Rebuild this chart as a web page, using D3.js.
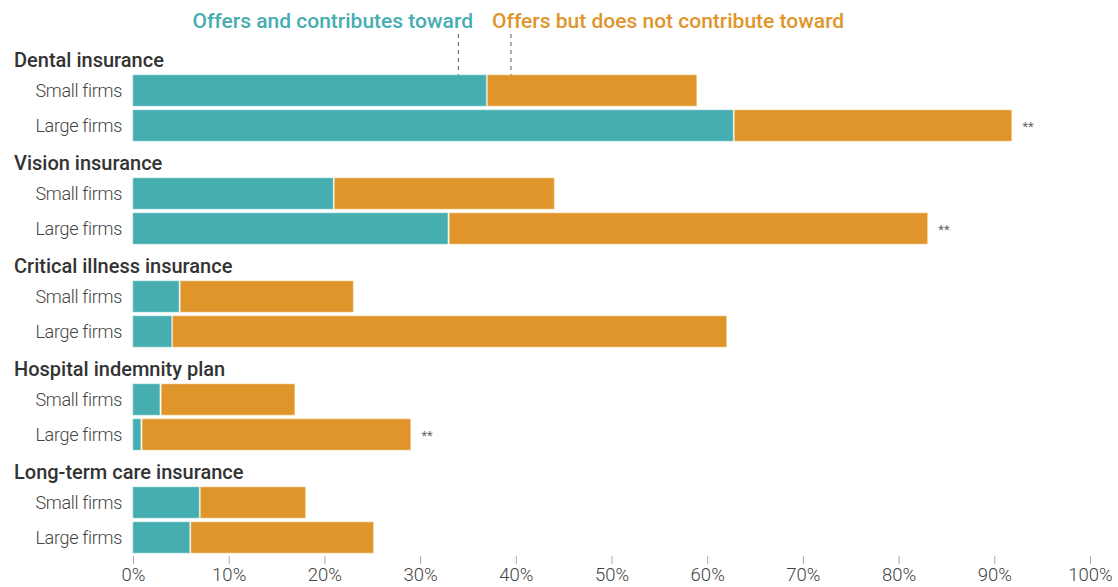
<!DOCTYPE html>
<html>
<head>
<meta charset="utf-8">
<script src="https://cdn.jsdelivr.net/npm/d3@7"></script>
<style>
  body { margin: 0; background: #fff; }
  svg { display: block; font-family: Roboto, "Open Sans", sans-serif; }
</style>
</head>
<body>
<svg id="chart" width="1118" height="587"></svg>
<script>
// benefits and firm sizes
const groups = ["Dental insurance", "Vision insurance", "Critical illness insurance", "Hospital indemnity plan", "Long-term care insurance"];
const firms = ["Small firms", "Large firms"];
// percent offering and contributing
const contributes = [
  [36.9, 62.7],
  [20.9, 32.9],
  [4.8, 4.0],
  [2.8, 0.8],
  [6.9, 5.9]
];
// percent offering but not contributing
const notContributes = [
  [22.0, 29.1],
  [23.1, 50.1],
  [18.2, 58.0],
  [14.1, 28.2],
  [11.1, 19.2]
];
// significance markers
const marks = [
  ["", "**"],
  ["", "**"],
  ["", ""],
  ["", "**"],
  ["", ""]
];
const ticks = [0, 10, 20, 30, 40, 50, 60, 70, 80, 90, 100];
const seriesNames = ["Offers and contributes toward", "Offers but does not contribute toward"];

const teal = "#46adb1";
const orange = "#e0952a";

const svg = d3.select("#chart");
const margin = {left: 133, right: 28};
const width = 1118;
const groupStep = 103;

const x = d3.scaleLinear().domain([0, 100]).range([margin.left, width - margin.right]);

const rows = [];
groups.forEach((g, gi) => {
  firms.forEach((f, fi) => {
    rows.push({group: g, gi, firm: f, fi, a: contributes[gi][fi], b: notContributes[gi][fi], mark: marks[gi][fi]});
  });
});

const yGroup = d => 35 + d * groupStep;
const y = d3.scaleBand().domain(firms).range([40, 106]).paddingInner(0.114).paddingOuter(0);

// group titles
svg.append("g").selectAll("text")
  .data(groups)
  .join("text")
  .attr("x", 14)
  .attr("y", (d, i) => yGroup(i) + 32)
  .attr("font-size", 20)
  .attr("font-weight", 500)
  .attr("fill", "#333")
  .text(d => d);

const rowG = svg.append("g").selectAll("g")
  .data(rows)
  .join("g")
  .attr("transform", d => `translate(0,${yGroup(d.gi) + y(d.firm)})`);

rowG.append("text")
  .attr("x", 122)
  .attr("y", y.bandwidth() / 2)
  .attr("dy", "0.35em")
  .attr("text-anchor", "end")
  .attr("font-size", 18)
  .attr("font-weight", 300)
  .attr("fill", "#444")
  .attr("letter-spacing", "-0.3")
  .text(d => d.firm);

rowG.append("rect")
  .attr("x", x(0))
  .attr("width", d => x(d.a) - x(0))
  .attr("height", y.bandwidth())
  .attr("fill", teal)
  .attr("stroke", "#8fd0d2")
  .attr("stroke-width", 0.6);

rowG.append("rect")
  .attr("x", d => x(d.a) + 1.5)
  .attr("width", d => x(d.a + d.b) - x(d.a) - 1.5)
  .attr("height", y.bandwidth())
  .attr("fill", orange)
  .attr("stroke", "#f0c888")
  .attr("stroke-width", 0.6);

rowG.append("text")
  .attr("x", d => x(d.a + d.b) + 11)
  .attr("y", y.bandwidth() / 2 + 6)
  .attr("font-size", 13)
  .attr("fill", "#666")
  .text(d => d.mark);

// legend
const legendX = [x(34), x(39.5)];
svg.append("text")
  .attr("x", 473)
  .attr("y", 28)
  .attr("text-anchor", "end")
  .attr("font-size", 21)
  .attr("font-weight", 500)
  .attr("fill", teal)
  .text(seriesNames[0]);
svg.append("text")
  .attr("x", 492)
  .attr("y", 28)
  .attr("font-size", 21)
  .attr("font-weight", 500)
  .attr("fill", orange)
  .text(seriesNames[1]);

svg.append("g").selectAll("line")
  .data(legendX)
  .join("line")
  .attr("x1", d => d).attr("x2", d => d)
  .attr("y1", 34)
  .attr("y2", yGroup(0) + y(firms[0]))
  .attr("stroke", "#555")
  .attr("stroke-width", 1)
  .attr("stroke-dasharray", "4,4");

// axis
const axis = svg.append("g")
  .attr("transform", "translate(0,556)")
  .call(d3.axisBottom(x).tickValues(ticks).tickSize(8).tickPadding(4).tickFormat(d => d + "%"));
axis.select(".domain").remove();
axis.selectAll(".tick line").attr("stroke", "#aaa");
axis.selectAll(".tick text")
  .attr("font-size", 18.5)
  .attr("font-weight", 300)
  .attr("fill", "#444")
  .attr("font-family", "Roboto, \"Open Sans\", sans-serif");
</script>
</body>
</html>
